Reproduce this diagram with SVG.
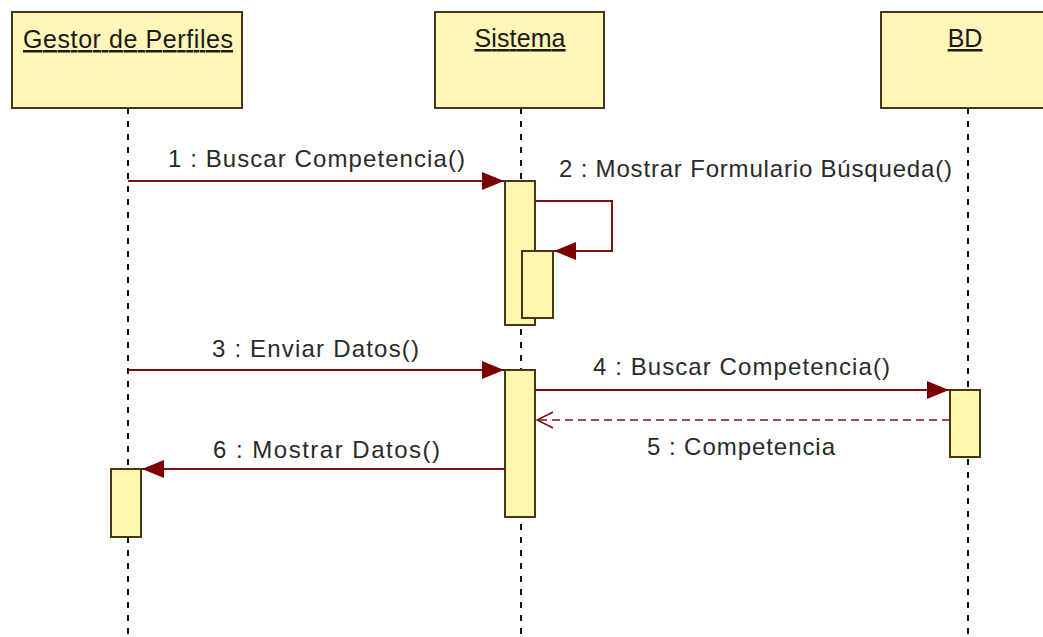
<svg xmlns="http://www.w3.org/2000/svg" width="1043" height="637" viewBox="0 0 1043 637">
<defs>
<style>
.obj{fill:#fff6b8;stroke:#4a3514;stroke-width:2}
.act{fill:#fff6b0;stroke:#4a3514;stroke-width:2}
.life{stroke:#111;stroke-width:2;stroke-dasharray:6 7;fill:none}
.msg{stroke:#7a1010;stroke-width:2;fill:none}
.ret{stroke:#7a1010;stroke-width:1.5;stroke-dasharray:8 5;fill:none}
.t{font-family:"Liberation Sans",Arial,sans-serif;font-size:24px;fill:#2a2a2a}
.h{font-family:"Liberation Sans",Arial,sans-serif;font-size:25px;fill:#1a1a1a;text-decoration:underline}
</style>
<marker id="fa" viewBox="0 0 22 18" refX="22" refY="9" markerWidth="22" markerHeight="18" markerUnits="userSpaceOnUse" orient="auto">
<path d="M0,0 L22,9 L0,18 z" fill="#7a0000"/>
</marker>
<marker id="oa" viewBox="0 0 18 18" refX="17" refY="9" markerWidth="18" markerHeight="18" markerUnits="userSpaceOnUse" orient="auto">
<path d="M1,1 L17,9 L1,17" fill="none" stroke="#7a1010" stroke-width="1.5"/>
</marker>
</defs>
<rect width="1043" height="637" fill="#ffffff"/>
<g id="lifelines">
<line class="life" x1="128" y1="108" x2="128" y2="637"/>
<line class="life" x1="521" y1="108" x2="521" y2="637"/>
<line class="life" x1="968" y1="108" x2="968" y2="637"/>
</g>
<g id="gestor">
<rect class="obj" x="12" y="12" width="230" height="96"/>
<text class="h" x="128" y="48" text-anchor="middle" textLength="210">Gestor de Perfiles</text>
<rect class="act" x="111" y="469" width="30" height="68"/>
</g>
<g id="sistema">
<rect class="obj" x="435" y="12" width="169" height="96"/>
<text class="h" x="520" y="47" text-anchor="middle" textLength="91">Sistema</text>
<rect class="act" x="505" y="181" width="30" height="144"/>
<rect class="act" x="522" y="251" width="31" height="67"/>
<rect class="act" x="505" y="370" width="30" height="147"/>
</g>
<g id="bd">
<rect class="obj" x="881" y="12" width="174" height="96"/>
<text class="h" x="965" y="47" text-anchor="middle">BD</text>
<rect class="act" x="950" y="390" width="30" height="67"/>
</g>
<g id="connectors">
<line class="msg" x1="128" y1="181" x2="504" y2="181" marker-end="url(#fa)"/>
<polyline class="msg" points="535,201 612,201 612,251 554,251" marker-end="url(#fa)"/>
<line class="msg" x1="128" y1="370" x2="504" y2="370" marker-end="url(#fa)"/>
<line class="msg" x1="535" y1="390" x2="949" y2="390" marker-end="url(#fa)"/>
<line class="ret" x1="950" y1="420" x2="537" y2="420" marker-end="url(#oa)"/>
<line class="msg" x1="505" y1="469" x2="142" y2="469" marker-end="url(#fa)"/>
</g>
<g id="labels">
<text class="t" x="168" y="167" textLength="297">1 : Buscar Competencia()</text>
<text class="t" x="559" y="177" textLength="393">2 : Mostrar Formulario Búsqueda()</text>
<text class="t" x="212" y="357" textLength="207">3 : Enviar Datos()</text>
<text class="t" x="593" y="375" textLength="297">4 : Buscar Competencia()</text>
<text class="t" x="647" y="455" textLength="188">5 : Competencia</text>
<text class="t" x="213" y="458" textLength="227">6 : Mostrar Datos()</text>
</g>
</svg>
